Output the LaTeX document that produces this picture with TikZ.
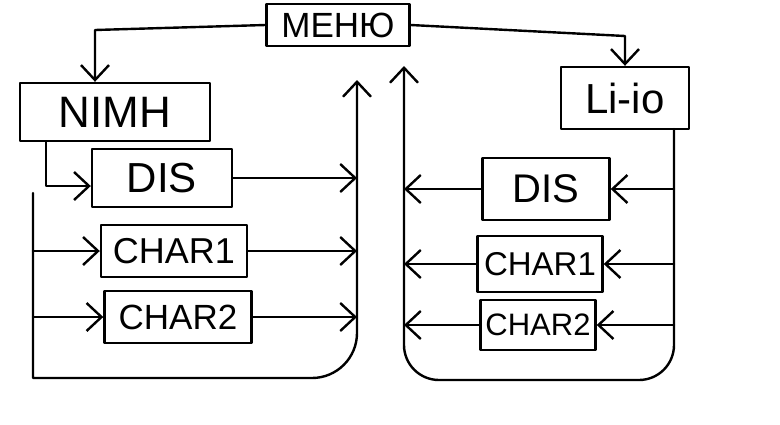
\documentclass[tikz,border=0pt]{standalone}
\usepackage{fontspec}
\setmainfont{Liberation Sans}
\usetikzlibrary{arrows.meta}
\begin{document}
\begin{tikzpicture}[x=1pt,y=-1pt,
  line width=2.4pt, line join=round, line cap=round,
  box/.style={draw, inner sep=0pt, align=center},
  arr/.style={-{Straight Barb[length=15pt,width=28pt,line width=2.4pt]}},
  fs/.style={font=\fontsize{#1}{#1}\selectfont}]
\path[use as bounding box, fill=white] (0,0) rectangle (780,424);
% boxes
\node[box, minimum width=143pt, minimum height=42pt, fs=35] (menu) at (338,25) {МЕНЮ};
\node[box, minimum width=190pt, minimum height=58pt, fs=44] (nimh) at (115,112) {NIMH};
\node[box, minimum width=140pt, minimum height=58pt, fs=42] (disL) at (162,178) {DIS};
\node[box, minimum width=146pt, minimum height=52pt, fs=36] (ch1L) at (174,251) {CHAR1};
\node[box, minimum width=147pt, minimum height=52pt, fs=35] (ch2L) at (178,317) {CHAR2};
\node[box, minimum width=128pt, minimum height=62pt, fs=42] (lii) at (625,98) {Li-io};
\node[box, minimum width=127pt, minimum height=62pt, fs=40] (disR) at (546,189) {DIS};
\node[box, minimum width=125pt, minimum height=56pt, fs=33] (ch1R) at (540,264) {CHAR1};
\node[box, minimum width=115pt, minimum height=50pt, fs=31] (ch2R) at (538,325) {CHAR2};
% helper coordinates
\coordinate (a1) at (95,30);
\coordinate (e1) at (625,36);
\coordinate (b0) at (46,186);
\coordinate (b1) at (33,193);
\coordinate (botL) at (33,378);
\coordinate (upL) at (357,80);
\coordinate (upR) at (404,66);
\coordinate (f1) at (674,129);
\coordinate (botR) at (674,380);
% menu to families
\draw[arr] (menu.west) -- (a1) -- (a1 |- nimh.north);
\draw[arr] (menu.east) -- (e1) -- (e1 |- lii.north);
% left side
\draw[arr] (nimh.south -| b0) -- (b0) -- (b0 -| disL.west);
\draw[arr] (b1) -- (botL) [rounded corners=45pt] -- (botL -| upL) -- (upL);
\draw[arr] (b1 |- ch1L.west) -- (ch1L.west);
\draw[arr] (b1 |- ch2L.west) -- (ch2L.west);
\draw[arr] (disL.east) -- (disL.east -| upL);
\draw[arr] (ch1L.east) -- (ch1L.east -| upL);
\draw[arr] (ch2L.east) -- (ch2L.east -| upL);
% right side
\draw[arr, rounded corners=35pt] (f1) -- (botR) -- (botR -| upR) -- (upR);
\draw[arr] (f1 |- disR.east) -- (disR.east);
\draw[arr] (f1 |- ch1R.east) -- (ch1R.east);
\draw[arr] (f1 |- ch2R.east) -- (ch2R.east);
\draw[arr] (disR.west) -- (disR.west -| upR);
\draw[arr] (ch1R.west) -- (ch1R.west -| upR);
\draw[arr] (ch2R.west) -- (ch2R.west -| upR);
\end{tikzpicture}
\end{document}
